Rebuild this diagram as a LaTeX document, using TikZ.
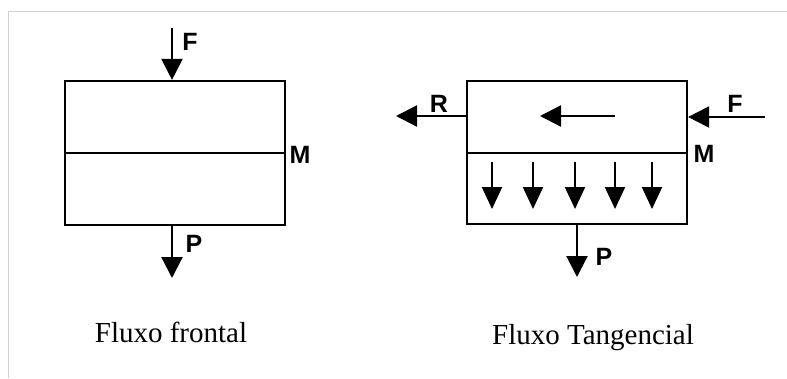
\documentclass[tikz,border=0pt]{standalone}
\usepackage{fontspec}
\setmainfont{Liberation Serif}
\newfontfamily\lblfont{Liberation Sans}
\usetikzlibrary{arrows.meta}
\begin{document}
\begin{tikzpicture}[x=1pt,y=-1pt,
  boxstyle/.style={draw, line width=2.2pt, minimum width=220pt, minimum height=144pt, inner sep=0pt},
  flow/.style={line width=2.2pt, -{Triangle[width=21pt,length=21pt]}},
  smallflow/.style={line width=2.2pt, -{Triangle[width=20pt,length=22pt]}},
  lbl/.style={font=\lblfont\bfseries\fontsize{25}{28}\selectfont, anchor=base, inner sep=0pt},
  captext/.style={font=\fontsize{29}{34}\selectfont, anchor=base, inner sep=0pt},
  framestyle/.style={draw=black!18, line width=1pt}]
\useasboundingbox (0,0) rectangle (787,378);
% frame
\coordinate (fa) at (8,378);
\coordinate (fb) at (8,11);
\coordinate (fc) at (787,11);
\draw[framestyle] (fa) -- (fb) -- (fc);

% ---- left: Fluxo frontal
\node[boxstyle] (b1) at (175,153) {};
\draw[line width=2.2pt] (b1.west) -- (b1.east);
\coordinate (f1s) at (172,28);
\draw[flow] (f1s) -- (f1s |- b1.north);
\coordinate (p1e) at (172,278);
\draw[flow] (p1e |- b1.south) -- (p1e);
\node[lbl] (F1) at (190,50) {F};
\node[lbl] (M1) at (300,163) {M};
\node[lbl] (P1) at (194,252) {P};
\node[captext] (c1) at (171,342) {Fluxo frontal};

% ---- right: Fluxo Tangencial
\node[boxstyle, minimum height=143pt] (b2) at (577,152.5) {};
\draw[line width=2.2pt] (b2.west |- 0,153) -- (b2.east |- 0,153);
% R outlet
\coordinate (r2) at (396,116);
\draw[flow] (b2.west |- r2) -- (r2);
% inner flow arrow
\coordinate (i2s) at (615,116);
\coordinate (i2e) at (540,116);
\draw[flow] (i2s) -- (i2e);
% F inlet
\coordinate (f2s) at (765,117);
\draw[flow] (f2s) -- (b2.east |- f2s);
% permeation arrows
\foreach \xx [count=\i] in {492,533,575,615,652}{
  \coordinate (d\i s) at (\xx,162);
  \coordinate (d\i e) at (\xx,209);
  \draw[smallflow] (d\i s) -- (d\i e);
}
% P outlet
\coordinate (p2e) at (577,277);
\draw[flow] (p2e |- b2.south) -- (p2e);
\node[lbl] (R2) at (439,112) {R};
\node[lbl] (F2) at (735,112) {F};
\node[lbl] (M2) at (704,162) {M};
\node[lbl] (P2) at (604,265) {P};
\node[captext] (c2) at (593,344) {Fluxo Tangencial};
\end{tikzpicture}
\end{document}
